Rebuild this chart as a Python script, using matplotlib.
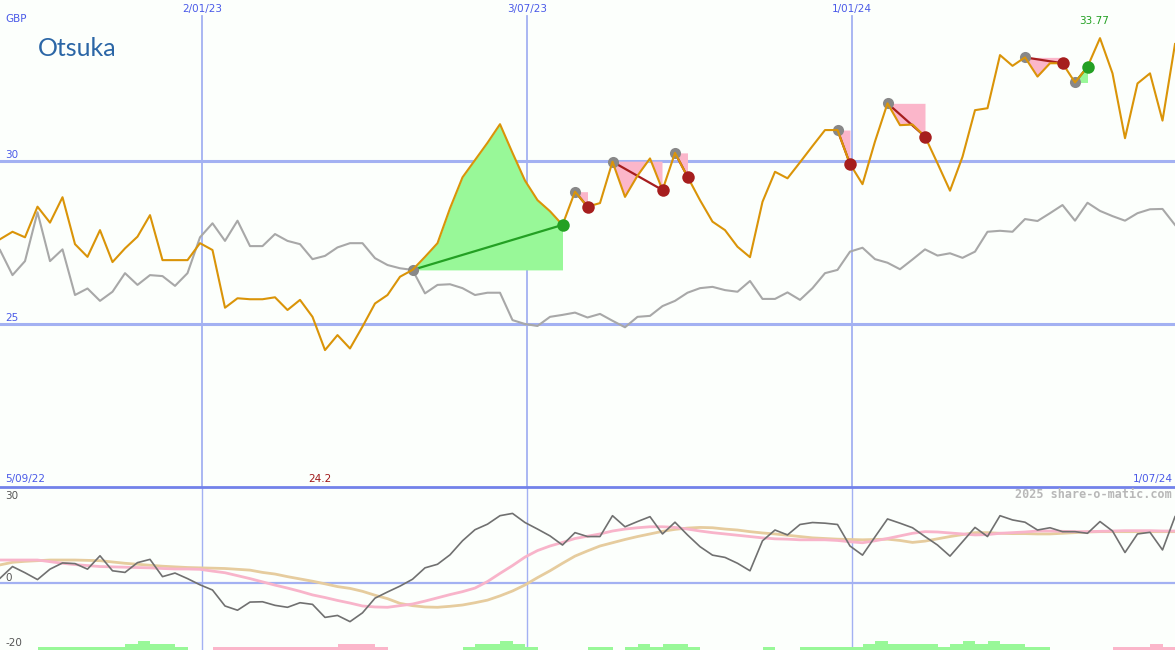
import numpy as np
import pandas as pd
import matplotlib
matplotlib.use("Agg")
import matplotlib.pyplot as plt
import matplotlib.dates as mdates
from matplotlib.lines import Line2D

# ---------------- data ----------------
dates = pd.date_range("2022-09-11", periods=95, freq="7D")

price = [27.60, 27.83, 27.66, 28.60, 28.11, 28.89, 27.45, 27.06, 27.88, 26.90,
         27.32, 27.68, 28.34, 26.96, 26.96, 26.96, 27.48, 27.27, 25.50, 25.79,
         25.76, 25.76, 25.82, 25.43, 25.74, 25.22, 24.20, 24.66, 24.25, 24.92,
         25.63, 25.89, 26.45, 26.66, 27.06, 27.48, 28.55, 29.50, 30.03, 30.56,
         31.13, 30.25, 29.40, 28.80, 28.46, 28.04, 29.06, 28.60, 28.71, 29.98,
         28.90, 29.55, 30.08, 29.11, 30.25, 29.52, 28.80, 28.14, 27.88, 27.37,
         27.05, 28.75, 29.67, 29.47, 29.96, 30.46, 30.95, 30.95, 29.91, 29.29,
         30.60, 31.77, 31.10, 31.12, 30.75, 29.93, 29.09, 30.13, 31.56, 31.62,
         33.25, 32.92, 33.18, 32.59, 33.00, 33.00, 32.41, 32.89, 33.77, 32.69,
         30.70, 32.38, 32.69, 31.24, 33.59]

relative = [27.27, 26.50, 26.93, 28.43, 26.93, 27.29, 25.89, 26.09, 25.71, 25.99,
            26.56, 26.20, 26.50, 26.47, 26.17, 26.56, 27.66, 28.09, 27.55, 28.17,
            27.39, 27.39, 27.76, 27.55, 27.45, 26.99, 27.09, 27.35, 27.48, 27.48,
            27.02, 26.81, 26.71, 26.66, 25.94, 26.20, 26.22, 26.10, 25.89, 25.96,
            25.96, 25.12, 25.00, 24.94, 25.22, 25.28, 25.35, 25.20, 25.31, 25.10,
            24.90, 25.22, 25.25, 25.55, 25.71, 25.96, 26.10, 26.14, 26.04, 25.99,
            26.32, 25.77, 25.77, 25.97, 25.74, 26.10, 26.56, 26.66, 27.22, 27.34,
            26.99, 26.88, 26.68, 26.98, 27.29, 27.10, 27.17, 27.03, 27.22, 27.83,
            27.86, 27.83, 28.22, 28.16, 28.40, 28.65, 28.17, 28.72, 28.47, 28.31,
            28.17, 28.40, 28.52, 28.53, 28.04]

oscillator = [1.6, 5.2, 3.3, 1.2, 4.4, 6.3, 6.1, 4.4, 8.5, 3.9,
              3.4, 6.4, 7.4, 2.1, 3.2, 1.5, -0.4, -2.0, -6.9, -8.2,
              -5.7, -5.6, -6.7, -7.3, -5.9, -6.4, -10.4, -9.8, -11.7, -9.0,
              -4.5, -2.6, -0.8, 1.3, 4.8, 5.9, 8.8, 13.1, 16.5, 18.2,
              20.8, 21.5, 18.7, 16.7, 14.6, 11.8, 15.6, 14.4, 14.4, 20.8,
              17.4, 19.0, 20.5, 15.2, 18.8, 14.9, 11.3, 8.7, 8.0, 6.2,
              3.9, 13.1, 16.4, 14.9, 18.1, 18.7, 18.5, 18.1, 11.5, 8.7,
              14.3, 19.8, 18.5, 17.1, 14.4, 11.8, 8.4, 12.8, 17.2, 14.4,
              20.8, 19.5, 18.8, 16.4, 17.1, 15.9, 15.9, 15.4, 19.0, 16.1,
              9.5, 15.2, 15.7, 10.3, 20.5]

osc_fast = [7.2, 7.2, 7.2, 7.2, 6.7, 6.2, 5.8, 5.5, 5.2, 5.1,
            5.0, 4.9, 4.8, 4.6, 4.45, 4.45, 4.35, 3.8, 3.3, 2.4,
            1.5, 0.5, -0.5, -1.4, -2.4, -3.5, -4.3, -5.2, -6.0, -6.9,
            -7.2, -7.3, -6.8, -6.3, -5.4, -4.4, -3.4, -2.5, -1.4, 0.6,
            3.1, 5.5, 8.1, 10.1, 11.5, 12.6, 13.8, 14.5, 15.2, 16.1,
            16.7, 17.1, 17.4, 17.4, 17.2, 16.7, 16.1, 15.6, 15.2, 14.8,
            14.4, 14.0, 13.7, 13.6, 13.4, 13.4, 13.4, 13.2, 12.8, 12.5,
            13.1, 13.8, 14.6, 15.4, 15.9, 15.8, 15.5, 15.2, 14.9, 15.0,
            15.4, 15.6, 15.8, 16.1, 16.1, 16.0, 15.9, 15.9, 16.0, 16.1,
            16.2, 16.2, 16.2, 16.1, 16.1]

osc_slow = [5.7, 6.5, 6.8, 7.0, 7.2, 7.2, 7.2, 7.1, 7.0, 6.6,
            6.2, 5.9, 5.6, 5.3, 5.1, 4.9, 4.8, 4.7, 4.6, 4.35,
            4.1, 3.4, 2.9, 2.1, 1.4, 0.7, -0.1, -0.95, -1.5, -2.4,
            -3.6, -4.65, -6.1, -6.8, -7.2, -7.3, -7.0, -6.6, -5.9, -5.1,
            -3.8, -2.3, -0.45, 1.8, 3.9, 6.2, 8.4, 10.0, 11.5, 12.5,
            13.5, 14.4, 15.2, 16.0, 16.6, 17.0, 17.2, 17.1, 16.7, 16.4,
            15.9, 15.5, 15.2, 14.8, 14.4, 14.0, 13.8, 13.6, 13.5, 13.4,
            13.5, 13.6, 13.2, 12.6, 13.0, 13.7, 14.4, 15.0, 15.6, 15.6,
            15.4, 15.3, 15.3, 15.2, 15.2, 15.4, 15.6, 15.8, 15.9, 15.9,
            15.9, 15.9, 15.9, 15.9, 15.9]

signal_bars = [0, 0, 0, 1, 1, 1, 1, 1, 1, 1,
               2, 3, 2, 2, 1, 0, 0, -1, -1, -1,
               -1, -1, -1, -1, -1, -1, -1, -2, -2, -2,
               -1, 0, 0, 0, 0, 0, 0, 1, 2, 2,
               3, 2, 1, 0, 0, 0, 0, 1, 1, 0,
               1, 2, 1, 2, 2, 1, 0, 0, 0, 0,
               0, 1, 0, 0, 1, 1, 1, 1, 1, 2,
               3, 2, 2, 2, 2, 1, 2, 3, 2, 3,
               2, 2, 1, 1, 0, 0, 0, 0, 0, -1,
               -1, -1, -2, -1, 0]

trade_entry = [33, 46, 49, 54, 67, 71, 82, 86]
trade_exit = [45, 47, 53, 55, 68, 74, 85, 87]

grid_dates = ["2023-01-02", "2023-07-03", "2024-01-01"]
grid_labels = ["2/01/23", "3/07/23", "1/01/24"]
price_levels = [25, 30]
osc_labels = [30, 0, -20]
title = "Otsuka"
currency = "GBP"
start_label = "5/09/22"
end_label = "1/07/24"
credit = "2025 share-o-matic.com"

# ---------------- style ----------------
W, H = 1175, 650
TOP_H = 487
BG = "#fcfffc"
GRID = "#a3b1f2"
BLUE_TXT = "#4a5ae8"
ORANGE = "#da9408"
GREY = "#a8a8a8"
FILL_G = "#98f898"
FILL_P = "#fbb6ca"
DOT_G = "#23a023"
DOT_R = "#a61e1e"
DOT_E = "#888888"

x = mdates.date2num(dates)
p = np.array(price)
gx = [mdates.date2num(pd.Timestamp(d)) for d in grid_dates]

fig = plt.figure(figsize=(W / 100, H / 100), dpi=100, facecolor=BG)
ax = fig.add_axes([0, (H - TOP_H) / H, 1, TOP_H / H])
axb = fig.add_axes([0, 0, 1, (H - TOP_H) / H])
for a in (ax, axb):
    a.set_axis_off()
    a.set_xlim(x[0], x[-1])

ax.set_ylim(20.0, 34.94)
axb.set_ylim(-20.4, 29.6)

# grid main
for lvl in price_levels:
    ax.axhline(lvl, color=GRID, lw=2.2, zorder=0.5)
for g in gx:
    ax.axvline(g, ymin=0, ymax=1 - 16 / TOP_H, color=GRID, lw=1.3, zorder=0.5)
    axb.axvline(g, color=GRID, lw=1.0, zorder=0.5)
axb.axhline(0, color=GRID, lw=1.6, zorder=0.5)

# trades: fills + connectors + dots
for e, xi in zip(trade_entry, trade_exit):
    seg = slice(e, xi + 1)
    lvl = p[e]
    ax.fill_between(x[seg], p[seg], lvl, where=p[seg] >= lvl, interpolate=True,
                    color=FILL_G, lw=0, zorder=1)
    ax.fill_between(x[seg], p[seg], lvl, where=p[seg] <= lvl, interpolate=True,
                    color=FILL_P, lw=0, zorder=1)
    win = p[xi] > lvl
    ax.plot([x[e], x[xi]], [p[e], p[xi]], color=DOT_G if win else DOT_R,
            lw=1.6, zorder=2)
    ax.plot(x[e], p[e], "o", ms=8, color=DOT_E, mec="none", zorder=2.5)
    ax.plot(x[xi], p[xi], "o", ms=9, color=DOT_G if win else DOT_R,
            mec="none", zorder=5)

ax.plot(x, relative, color=GREY, lw=1.5, zorder=2.2)
ax.plot(x, p, color=ORANGE, lw=1.5, zorder=3)

# bottom panel
axb.plot(x, osc_slow, color="#e6cc9e", lw=2.0, zorder=2)
axb.plot(x, osc_fast, color="#f8b4ca", lw=2.0, zorder=2.1)
axb.plot(x, oscillator, color="#707070", lw=1.2, zorder=3)
sb = np.array(signal_bars)
step = 0.92
heights = np.abs(sb) * step
cols = [FILL_G if v > 0 else FILL_P for v in sb]
axb.bar(x, heights, width=7.0, align="edge", bottom=-20.4, color=cols, lw=0, zorder=1)

# separator
fig.add_artist(Line2D([0, 1], [(H - TOP_H) / H] * 2, color="#7282ea", lw=2.0,
                      transform=fig.transFigure))

def ftxt(px, py, s, **kw):
    fig.text(px / W, 1 - py / H, s, **kw)

small = dict(fontsize=7.5, va="center", family="DejaVu Sans")
ftxt(38, 48, title, fontsize=18, color="#2b66a6", va="center", ha="left",
     family="Lato")
ftxt(5, 19, currency, color=BLUE_TXT, ha="left", **small)
for lvl in price_levels:
    yp = (34.94 - lvl) / (34.94 - 20.0) * TOP_H - 6
    ftxt(5, yp, str(lvl), color=BLUE_TXT, ha="left", **small)
for g, lab in zip(gx, grid_labels):
    xp = (g - x[0]) / (x[-1] - x[0]) * W
    ftxt(xp, 9, lab, color=BLUE_TXT, ha="center", **small)
ftxt(5, 479, start_label, color=BLUE_TXT, ha="left", **small)
ftxt(1173, 479, end_label, color=BLUE_TXT, ha="right", **small)

imax = int(np.argmax(p))
imin = int(np.argmin(p))
xmax_px = (x[imax] - x[0]) / (x[-1] - x[0]) * W
xmin_px = (x[imin] - x[0]) / (x[-1] - x[0]) * W
ftxt(xmax_px - 6, 21, f"{p[imax]:.2f}", color="#22a022", ha="center", **small)
ftxt(xmin_px - 5, 479, f"{p[imin]:.1f}", color="#a01818", ha="center", **small)

ftxt(1172, 495, credit, color="#b8b8b8", ha="right", va="center", fontsize=8.5,
     family="DejaVu Sans Mono", fontweight="bold")
osc_y = {30: 496, 0: 578, -20: 643}
for v in osc_labels:
    ftxt(5, osc_y[v], str(v), color="#555555", ha="left", **small)

fig.savefig("out.png", dpi=100, facecolor=BG)
